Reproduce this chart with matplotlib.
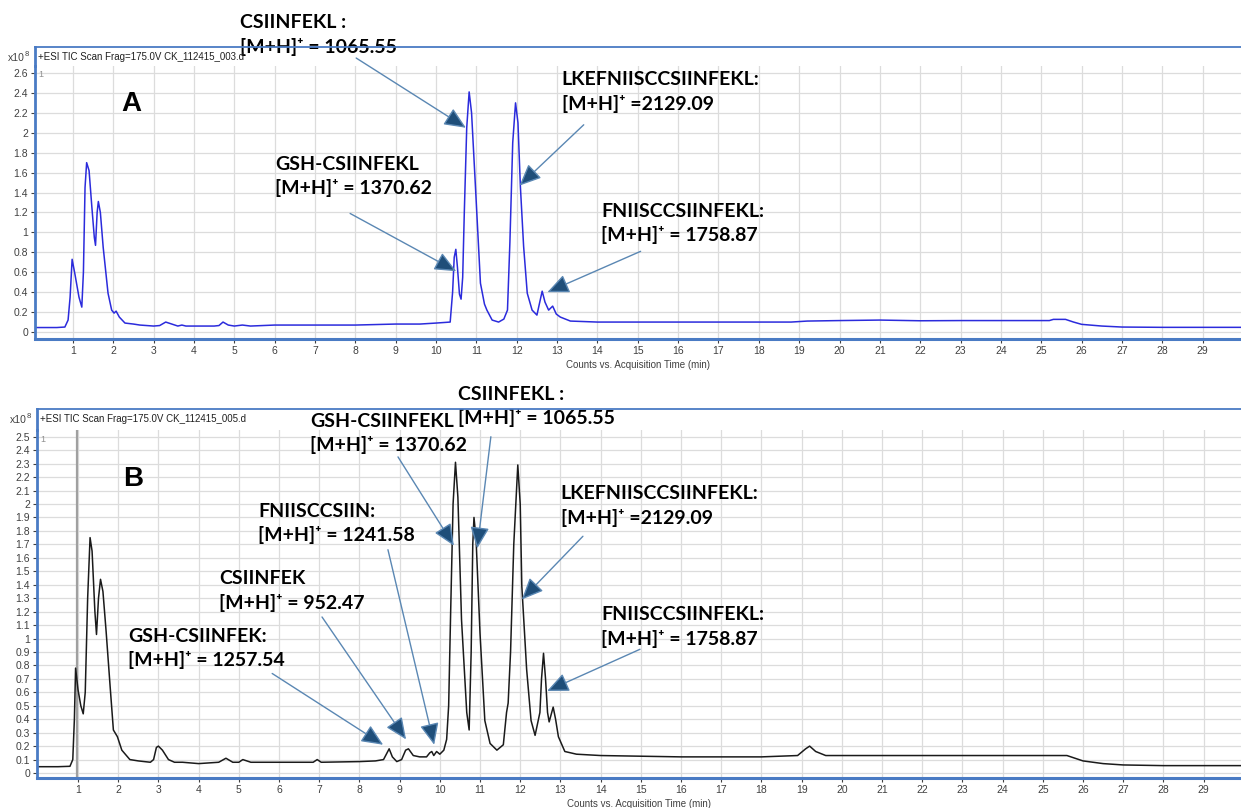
import matplotlib
matplotlib.use("Agg")
import matplotlib.pyplot as plt
from matplotlib.lines import Line2D

W, H = 1241, 808

# ---- chromatogram A (blue) ----
time_a = [0.05, 0.6, 0.8, 0.88, 0.93, 0.98, 1.05, 1.15, 1.22, 1.26, 1.30, 1.34, 1.40, 1.47,
          1.53, 1.56, 1.60, 1.63, 1.68, 1.75, 1.87, 1.96, 2.02, 2.07, 2.15, 2.29, 2.5, 2.66,
          3.0, 3.15, 3.3, 3.45, 3.6, 3.7, 3.8, 4.0, 4.5, 4.62, 4.72, 4.85, 5.0, 5.2, 5.4,
          6.0, 7.0, 8.0, 9.0, 9.6, 10.0, 10.35, 10.41, 10.45, 10.49, 10.53, 10.58, 10.62,
          10.66, 10.70, 10.76, 10.82, 10.88, 10.98, 11.1, 11.2, 11.26, 11.39, 11.55, 11.68,
          11.77, 11.83, 11.9, 11.97, 12.03, 12.09, 12.17, 12.26, 12.38, 12.5, 12.57, 12.63,
          12.7, 12.79, 12.89, 12.98, 13.08, 13.33, 14.0, 15.0, 16.0, 17.0, 18.0, 18.8, 19.2,
          20.0, 21.0, 22.0, 23.0, 24.0, 25.2, 25.3, 25.6, 25.8, 26.0, 26.5, 27.0, 28.0, 29.0,
          29.95]
tic_a = [0.045, 0.045, 0.05, 0.12, 0.35, 0.73, 0.58, 0.35, 0.25, 0.6, 1.45, 1.70, 1.62, 1.25,
         0.95, 0.87, 1.2, 1.31, 1.2, 0.85, 0.39, 0.22, 0.19, 0.21, 0.15, 0.09, 0.08, 0.07,
         0.06, 0.065, 0.1, 0.08, 0.06, 0.07, 0.06, 0.06, 0.06, 0.065, 0.10, 0.07, 0.06, 0.07, 0.06,
         0.07, 0.07, 0.07, 0.08, 0.08, 0.09, 0.10, 0.40, 0.75, 0.83, 0.65, 0.38, 0.33,
         0.55, 1.2, 2.05, 2.41, 2.2, 1.43, 0.49, 0.28, 0.22, 0.12, 0.10, 0.13,
         0.22, 0.9, 1.9, 2.30, 2.1, 1.46, 0.86, 0.39, 0.22, 0.17, 0.3, 0.41,
         0.3, 0.22, 0.26, 0.18, 0.15, 0.11, 0.10, 0.10, 0.10, 0.10, 0.10, 0.10, 0.11,
         0.115, 0.12, 0.113, 0.115, 0.115, 0.115, 0.127, 0.127, 0.1, 0.077, 0.06, 0.05, 0.047, 0.047,
         0.047]

# ---- chromatogram B (black) ----
time_b = [0.0, 0.5, 0.8, 0.87, 0.91, 0.94, 1.0, 1.07, 1.13, 1.18, 1.24, 1.30, 1.35, 1.42, 1.46,
          1.51, 1.56, 1.62, 1.70, 1.80, 1.88, 1.98, 2.09, 2.29, 2.5, 2.8, 2.88, 2.95, 3.0, 3.1,
          3.25, 3.4, 3.6, 4.0, 4.5, 4.68, 4.85, 5.0, 5.1, 5.3, 6.0, 6.85, 6.95, 7.05, 8.0, 8.4,
          8.6, 8.74, 8.82, 8.93, 9.05, 9.15, 9.22, 9.34, 9.5, 9.67, 9.75, 9.80, 9.85, 9.92,
          10.0, 10.1, 10.17, 10.22, 10.27, 10.33, 10.39, 10.45, 10.54, 10.67, 10.73, 10.78,
          10.82, 10.85, 10.9, 11.0, 11.12, 11.25, 11.42, 11.58, 11.66, 11.70, 11.76, 11.84,
          11.94, 12.0, 12.04, 12.16, 12.27, 12.37, 12.49, 12.53, 12.58, 12.63, 12.68, 12.72,
          12.82, 12.88, 12.95, 13.11, 13.4, 14.0, 15.0, 16.0, 17.0, 18.0, 18.9, 19.1, 19.2,
          19.35, 19.6, 20.0, 21.0, 22.0, 23.0, 24.0, 25.0, 25.6, 26.0, 26.5, 27.0, 28.0, 29.0,
          29.95]
tic_b = [0.047, 0.047, 0.05, 0.1, 0.4, 0.78, 0.62, 0.5, 0.44, 0.6, 1.3, 1.75, 1.65, 1.2, 1.03,
         1.3, 1.44, 1.35, 1.05, 0.64, 0.32, 0.27, 0.17, 0.10, 0.09, 0.08, 0.1, 0.19, 0.20, 0.17,
         0.1, 0.08, 0.08, 0.07, 0.08, 0.11, 0.08, 0.08, 0.10, 0.08, 0.08, 0.08, 0.10, 0.08, 0.085, 0.09,
         0.1, 0.18, 0.12, 0.085, 0.1, 0.17, 0.18, 0.13, 0.12, 0.12, 0.15, 0.16, 0.13, 0.16,
         0.14, 0.17, 0.25, 0.5, 1.2, 2.0, 2.31, 2.05, 1.14, 0.45, 0.32, 0.9,
         1.7, 1.90, 1.75, 1.04, 0.39, 0.22, 0.17, 0.21, 0.45, 0.52, 0.9, 1.7,
         2.29, 2.0, 1.39, 0.77, 0.39, 0.28, 0.45, 0.7, 0.89, 0.7, 0.45, 0.38,
         0.49, 0.40, 0.27, 0.16, 0.14, 0.13, 0.125, 0.12, 0.12, 0.12, 0.13, 0.18, 0.20,
         0.16, 0.13, 0.13, 0.13, 0.13, 0.13, 0.13, 0.13, 0.13, 0.09, 0.07, 0.06, 0.055, 0.055,
         0.055]

titles = ["+ESI TIC Scan Frag=175.0V CK_112415_003.d",
          "+ESI TIC Scan Frag=175.0V CK_112415_005.d"]
xlabel = "Counts vs. Acquisition Time (min)"

# labels: (text, text anchor t, v, arrow start t, v, arrow tip t, v)
notes_a = [
    ("CSIINFEKL :\n[M+H]\u207a = 1065.55", 5.14, 3.19, 8.02, 2.75, 10.74, 2.05),
    ("LKEFNIISCCSIINFEKL:\n[M+H]\u207a =2129.09", 13.11, 2.62, 13.66, 2.08, 12.07, 1.47),
    ("GSH-CSIINFEKL\n[M+H]\u207a = 1370.62", 6.01, 1.77, 7.87, 1.19, 10.50, 0.61),
    ("FNIISCCSIINFEKL:\n[M+H]\u207a = 1758.87", 14.10, 1.30, 15.07, 0.81, 12.76, 0.40),
]
notes_b = [
    ("CSIINFEKL :\n[M+H]\u207a = 1065.55", 10.45, 2.88, 11.27, 2.50, 10.93, 1.67),
    ("GSH-CSIINFEKL\n[M+H]\u207a = 1370.62", 6.77, 2.68, 8.96, 2.35, 10.35, 1.69),
    ("LKEFNIISCCSIINFEKL:\n[M+H]\u207a =2129.09", 13.01, 2.14, 13.56, 1.76, 12.04, 1.29),
    ("FNIISCCSIIN:\n[M+H]\u207a = 1241.58", 5.48, 2.01, 8.71, 1.66, 9.86, 0.21),
    ("CSIINFEK\n[M+H]\u207a = 952.47", 4.51, 1.51, 7.07, 1.16, 9.16, 0.25),
    ("GSH-CSIINFEK:\n[M+H]\u207a = 1257.54", 2.24, 1.08, 5.83, 0.74, 8.59, 0.21),
    ("FNIISCCSIINFEKL:\n[M+H]\u207a = 1758.87", 14.01, 1.24, 14.98, 0.92, 12.67, 0.61),
]

FRAME = "#4a7bc4"
GRID = "#dcdcdc"
TICKC = "#404040"
ui_font = ["Liberation Sans", "DejaVu Sans"]
note_font = ["Lato", "DejaVu Sans"]

fig = plt.figure(figsize=(W / 100, H / 100), dpi=100)


def px(x, y):
    return x / W, 1 - y / H


def panel(box, frame_top, time, tic, color, ylim, yticks, xlim, title, letter, notes,
          cursor=None):
    left, top, bottom = box
    ax = fig.add_axes([left / W, 1 - bottom / H, (W - left) / W, (bottom - top) / H])
    ax.plot(time, tic, color=color, lw=1.1)
    if cursor is not None:
        ax.axvline(cursor, color="#a0a0a0", lw=1.6, zorder=1)
    ax.set_xlim(*xlim)
    ax.set_ylim(*ylim)
    ax.set_xticks(range(1, 30))
    ax.set_yticks(yticks)
    ax.set_yticklabels(["%g" % round(v, 2) for v in yticks])
    ax.grid(True, color=GRID, lw=0.9)
    ax.set_axisbelow(True)
    ax.tick_params(labelsize=7.5, labelcolor=TICKC, color=TICKC, length=3, width=0.8, pad=2)
    for lab in ax.get_xticklabels() + ax.get_yticklabels():
        lab.set_family(ui_font)
    ax.spines["top"].set_visible(False)
    ax.spines["right"].set_visible(False)
    ax.spines["left"].set_color(FRAME)
    ax.spines["left"].set_linewidth(2.0)
    ax.spines["bottom"].set_color(FRAME)
    ax.spines["bottom"].set_linewidth(2.2)
    ax.set_xlabel(xlabel, fontsize=7, color=TICKC, family=ui_font, labelpad=3)

    # outer frame above plot area
    x0, y0 = px(left, frame_top)
    x1, y1 = px(left, top)
    fig.add_artist(Line2D([x0, 1.0], [y0, y0], color=FRAME, lw=1.3))
    fig.add_artist(Line2D([x0, x0], [y0, y1], color=FRAME, lw=2.0))
    tx, ty = px(left + 3, frame_top + 10)
    fig.text(tx, ty, title, fontsize=7, color="#202020", family=ui_font, va="center")
    sx, sy = px(left - 27, frame_top + 11)
    fig.text(sx, sy, "x10", fontsize=7.5, color=TICKC, family=ui_font, va="center")
    sx, sy = px(left - 10, frame_top + 8)
    fig.text(sx, sy, "8", fontsize=5.5, color=TICKC, family=ui_font, va="center")
    ax.text(0.003, 0.985, "1", transform=ax.transAxes, fontsize=6.5, color="#909090",
            family=ui_font, va="top", ha="left")
    ax.text(0.08, 0.86, letter, transform=ax.transAxes, fontsize=20, fontweight="bold",
            family=ui_font, ha="center", va="center")

    for label, lt, lv, st, sv, et, ev in notes:
        ax.text(lt, lv, label, fontsize=14, fontweight="bold", family=note_font,
                ha="left", va="top", linespacing=1.45, clip_on=False)
        ax.annotate("", xy=(et, ev), xytext=(st, sv), annotation_clip=False,
                    arrowprops=dict(arrowstyle="-|>,head_length=0.95,head_width=0.42",
                                    fc="#1f4e79", ec="#5a87b3", lw=1.0,
                                    mutation_scale=14, shrinkA=0, shrinkB=0))
    return ax


panel((35, 66, 339), 47, time_a, tic_a, "#2b2bdc", (-0.07, 2.67),
      [round(0.2 * i, 1) for i in range(14)], (0.06, 29.95), titles[0], "A", notes_a)
panel((37, 430, 778), 409, time_b, tic_b, "#1a1a1a", (-0.037, 2.55),
      [round(0.1 * i, 1) for i in range(26)], (-0.02, 29.93), titles[1], "B", notes_b,
      cursor=0.97)

fig.savefig("out.png", dpi=100)
